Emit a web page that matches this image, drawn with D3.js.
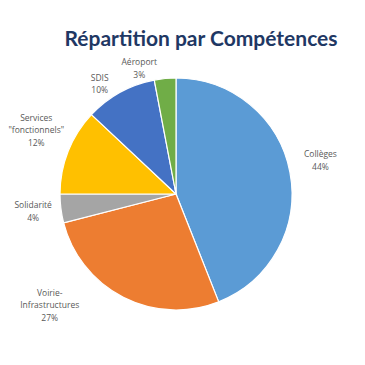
<!DOCTYPE html>
<html>
<head>
<meta charset="utf-8">
<script src="https://cdn.jsdelivr.net/npm/d3@7"></script>
<style>
  body { margin: 0; background: #fff; }
</style>
</head>
<body>
<div id="chart"></div>
<script>
// data
const categories = ["Collèges", "Voirie-Infrastructures", "Solidarité", "Services \"fonctionnels\"", "SDIS", "Aéroport"];
const values = [44, 27, 4, 12, 10, 3];
const labelLines = [["Collèges"], ["Voirie-", "Infrastructures"], ["Solidarité"], ["Services", "\"fonctionnels\""], ["SDIS"], ["Aéroport"]];
const colors = ["#5b9bd5", "#ed7d31", "#a5a5a5", "#ffc000", "#4472c4", "#70ad47"];

// label layout nudges (Excel "best fit" placement)
const labelNudge = {
  "Collèges": [1, -6],
  "Voirie-Infrastructures": [-60, -19],
  "Solidarité": [2, -1],
  "Services \"fonctionnels\"": [-4, -10],
  "SDIS": [-6, 18],
  "Aéroport": [-23, 20]
};

const width = 365, height = 365;
const cx = 176, cy = 194, radius = 116;
const lineH = 12.5;

const svg = d3.select("#chart")
  .append("svg")
  .attr("width", width)
  .attr("height", height);

// title
svg.append("text")
  .attr("x", 201)
  .attr("y", 46)
  .attr("text-anchor", "middle")
  .attr("font-family", "Lato, 'Open Sans', sans-serif")
  .attr("font-weight", "bold")
  .attr("font-size", 21)
  .attr("fill", "#1f3864")
  .text("Répartition par Compétences");

const g = svg.append("g")
  .attr("transform", `translate(${cx},${cy})`);

const pie = d3.pie().sort(null).value(d => d);
const arcs = pie(values);

const arc = d3.arc().innerRadius(0).outerRadius(radius);
const labelArc = d3.arc().innerRadius(146).outerRadius(146);

g.selectAll("path.slice")
  .data(arcs)
  .join("path")
  .attr("class", "slice")
  .attr("d", arc)
  .attr("fill", (d, i) => colors[i])
  .attr("stroke", "#fff")
  .attr("stroke-width", 1.2);

const labels = g.selectAll("text.lbl")
  .data(arcs)
  .join("text")
  .attr("class", "lbl")
  .attr("text-anchor", "middle")
  .attr("font-family", "'Open Sans', sans-serif")
  .attr("font-size", 8.5)
  .attr("fill", "#595959")
  .attr("transform", (d, i) => {
    const c = labelArc.centroid(d);
    const n = labelNudge[categories[i]];
    const lines = labelLines[i].length + 1;
    return `translate(${c[0] + n[0]},${c[1] + n[1] - (lines - 1) * lineH / 2})`;
  });

labels.each(function(d, i) {
  const t = d3.select(this);
  const lines = labelLines[i].concat([Math.round(values[i]) + "%"]);
  lines.forEach((s, k) => {
    t.append("tspan")
      .attr("x", 0)
      .attr("dy", k === 0 ? "0.35em" : lineH)
      .text(s);
  });
});
</script>
</body>
</html>
